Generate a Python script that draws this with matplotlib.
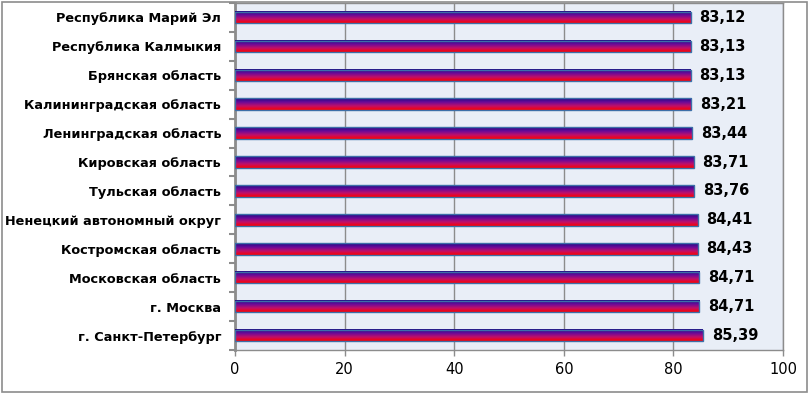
import numpy as np
import matplotlib.pyplot as plt
from matplotlib.colors import LinearSegmentedColormap
from matplotlib.patches import Rectangle

regions = [
    "Республика Марий Эл",
    "Республика Калмыкия",
    "Брянская область",
    "Калининградская область",
    "Ленинградская область",
    "Кировская область",
    "Тульская область",
    "Ненецкий автономный округ",
    "Костромская область",
    "Московская область",
    "г. Москва",
    "г. Санкт-Петербург",
]
values = [83.12, 83.13, 83.13, 83.21, 83.44, 83.71, 83.76, 84.41, 84.43, 84.71, 84.71, 85.39]
value_labels = ["83,12", "83,13", "83,13", "83,21", "83,44", "83,71", "83,76",
                "84,41", "84,43", "84,71", "84,71", "85,39"]
x_ticks = [0, 20, 40, 60, 80, 100]

grey = "#8c8c8c"
cmap = LinearSegmentedColormap.from_list("grad", ["#1c0a82", "#6a0a9a", "#c0106a", "#ff0000"])

fig = plt.figure(figsize=(8.09, 3.94), dpi=100)
ax = fig.add_axes([0.2905, 0.1117, 0.6774, 0.8807])
ax.set_facecolor("#e9eef7")

n = len(regions)
ypos = np.arange(n)
bar_h = 0.4
grad = np.linspace(0, 1, 64).reshape(-1, 1)

for y, v, lbl in zip(ypos, values, value_labels):
    # gradient fill for each bar, then outline on top
    ax.imshow(grad, cmap=cmap, aspect="auto", interpolation="bilinear",
              extent=[0, v, y + bar_h / 2, y - bar_h / 2], zorder=3)
    ax.add_patch(Rectangle((0, y - bar_h / 2), v, bar_h, fill=False,
                           edgecolor="#3d6fa8", linewidth=1.0, zorder=4))
    ax.text(v + 1.6, y, lbl, va="center", ha="left", fontsize=10.5,
            fontweight="bold", color="black", zorder=5)

ax.set_xlim(0, 100)
ax.set_ylim(n - 0.5, -0.5)
ax.set_xticks(x_ticks)
ax.set_xticklabels([str(t) for t in x_ticks], fontsize=10.5)
ax.set_yticks(ypos)
ax.set_yticklabels(regions, fontsize=9.3, fontweight="bold")
ax.tick_params(axis="y", length=0, pad=10)
ax.set_yticks(np.arange(-0.5, n, 1), minor=True)
ax.tick_params(axis="y", which="minor", length=4, color=grey, width=1.5)
ax.tick_params(axis="x", length=4, color=grey, width=1, pad=5)
ax.grid(axis="x", color=grey, linewidth=1, zorder=0)
ax.set_axisbelow(True)
for s in ax.spines.values():
    s.set_color(grey)
    s.set_linewidth(1)
ax.spines["left"].set_linewidth(2)

fig.patches.append(Rectangle((0.003, 0.004), 0.994, 0.992, transform=fig.transFigure,
                             fill=False, edgecolor=grey, linewidth=1.2))

fig.savefig("out.png", dpi=100)
